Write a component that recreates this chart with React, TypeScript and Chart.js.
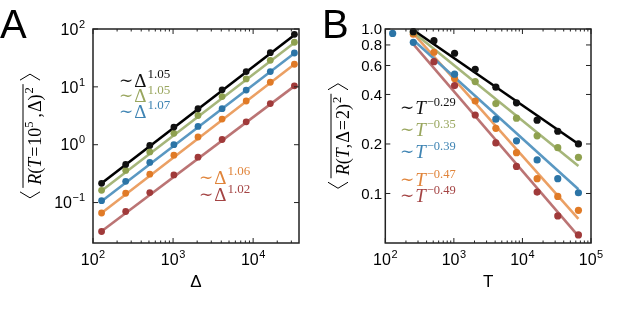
import React, { useEffect, useRef } from "react";
import { Chart, registerables } from "chart.js";
Chart.register(...registerables);

// ---------- Panel A data ----------
const deltaA = [128, 256, 512, 1024, 2048, 4096, 8192, 16384, 32768];
const aBlack = [0.215, 0.457, 0.97, 2.02, 4.18, 8.9, 18.4, 39, 81];
const aGreen = [0.163, 0.36, 0.75, 1.57, 3.2, 6.8, 13.7, 28.8, 59];
const aBlue = [0.108, 0.233, 0.495, 1.0, 2.07, 4.2, 8.8, 18.4, 38.5];
const aOrange = [0.066, 0.145, 0.31, 0.66, 1.36, 2.77, 5.7, 12, 24.6];
const aRed = [0.0316, 0.07, 0.149, 0.3, 0.61, 1.23, 2.49, 5.15, 10.4];
const aFitStart = [0.215, 0.16, 0.105, 0.066, 0.032];
const aFitEnd = [79, 58, 38, 24.5, 10.3];
const aExponents = ["1.05", "1.05", "1.07", "1.06", "1.02"];
const aXTicks = [100, 1000, 10000];
const aXTickExp = ["2", "3", "4"];
const aYTicks = [0.1, 1, 10, 100];
const aYTickExp = ["\u22121", "0", "1", "2"];

// ---------- Panel B data ----------
const timeB = [128, 256, 512, 1024, 2048, 4096, 8192, 16384, 32768, 65536];
const bBlack = [null, 0.963, 0.849, 0.712, 0.569, 0.443, 0.356, 0.279, 0.239, 0.2];
const bGreen = [null, 0.96, null, null, 0.479, 0.352, 0.287, 0.224, 0.19, 0.166];
const bBlue = [0.94, 0.83, null, 0.531, null, 0.283, 0.209, 0.16, 0.123, 0.101];
const bOrange = [null, 0.93, 0.722, 0.5, 0.365, 0.249, 0.177, 0.123, 0.096, 0.079];
const bRed = [null, null, 0.633, 0.453, 0.3, 0.203, 0.146, 0.102, 0.073, 0.056];
const bFitStart = [0.986, 0.955, 0.857, 0.94, 0.81];
const bFitEnd = [0.2, 0.147, 0.106, 0.07, 0.055];
const bExponents = ["\u22120.29", "\u22120.35", "\u22120.39", "\u22120.47", "\u22120.49"];
const bXTicks = [100, 1000, 10000, 100000];
const bXTickExp = ["2", "3", "4", "5"];
const bYTicks = [0.1, 0.2, 0.4, 0.6, 0.8, 1.0];
const bYTickLabels = ["0.1", "0.2", "0.4", "0.6", "0.8", "1.0"];

// ---------- styles ----------
const POINT_COLORS = ["#111111", "#8fa14f", "#2b74a6", "#e07a26", "#a03a3a"];
const LINE_COLORS = ["#000000", "#a6b67a", "#5a98c2", "#eba064", "#bb7474"];
const TEXT_COLORS = ["#111111", "#99a65e", "#3f84b3", "#e0843a", "#a44444"];
const SANS = '"Liberation Sans", Arial, sans-serif';
const SERIF = '"Liberation Serif", "Times New Roman", serif';
const TILDE_FONT = '17px "DejaVu Serif", serif';

type Seg = { t: string; f: string; dy?: number; dx?: number };

function segWidth(ctx: CanvasRenderingContext2D, segs: Seg[]) {
  let w = 0;
  for (const s of segs) {
    ctx.font = s.f;
    w += (s.dx || 0) + ctx.measureText(s.t).width;
  }
  return w;
}

function drawSegs(
  ctx: CanvasRenderingContext2D,
  segs: Seg[],
  x: number,
  y: number,
  align: "left" | "center" | "right",
  color: string
) {
  const w = segWidth(ctx, segs);
  let cx = align === "left" ? x : align === "right" ? x - w : x - w / 2;
  ctx.fillStyle = color;
  ctx.textAlign = "left";
  ctx.textBaseline = "alphabetic";
  for (const s of segs) {
    ctx.font = s.f;
    cx += s.dx || 0;
    ctx.fillText(s.t, cx, y + (s.dy || 0));
    cx += ctx.measureText(s.t).width;
  }
  return w;
}

function sci(exp: string): Seg[] {
  return [
    { t: "10", f: `16px ${SANS}` },
    { t: exp, f: `11px ${SANS}`, dy: -7, dx: 0.5 },
  ];
}

function minorTicks(min: number, max: number) {
  const out: number[] = [];
  for (let d = Math.floor(Math.log10(min)); d <= Math.ceil(Math.log10(max)); d++) {
    for (let k = 2; k <= 9; k++) {
      const v = k * Math.pow(10, d);
      if (v > min && v < max) out.push(v);
    }
  }
  return out;
}

type PanelOpts = {
  xMajors: number[];
  xLabels: Seg[][];
  yMajors: number[];
  yLabels: Seg[][];
  yLabelRight: number;
  yLabelFontPx: number;
  xTitle: string;
  letter: string;
  letterX: number;
  ylabel: Seg[];
  ylabelX: number;
  annotations: { x: number; y: number; segs: Seg[]; color: string }[];
};

function makePlugin(o: PanelOpts) {
  return {
    id: "panelDecor",
    afterDraw(chart: any) {
      const ctx: CanvasRenderingContext2D = chart.ctx;
      const ca = chart.chartArea;
      const xs = chart.scales.x;
      const ys = chart.scales.y;
      ctx.save();
      // frame
      ctx.strokeStyle = "#222";
      ctx.lineWidth = 1.5;
      ctx.strokeRect(ca.left, ca.top, ca.right - ca.left, ca.bottom - ca.top);
      // ticks
      ctx.lineWidth = 1;
      ctx.beginPath();
      const xmin = xs.min, xmax = xs.max;
      for (const v of o.xMajors) {
        const px = xs.getPixelForValue(v);
        ctx.moveTo(px, ca.bottom); ctx.lineTo(px, ca.bottom - 5);
        ctx.moveTo(px, ca.top); ctx.lineTo(px, ca.top + 5);
      }
      for (const v of minorTicks(xmin, xmax)) {
        const px = xs.getPixelForValue(v);
        ctx.moveTo(px, ca.bottom); ctx.lineTo(px, ca.bottom - 2.5);
        ctx.moveTo(px, ca.top); ctx.lineTo(px, ca.top + 2.5);
      }
      for (const v of o.yMajors) {
        const py = ys.getPixelForValue(v);
        ctx.moveTo(ca.left, py); ctx.lineTo(ca.left + 5, py);
        ctx.moveTo(ca.right, py); ctx.lineTo(ca.right - 5, py);
      }
      ctx.stroke();
      // tick labels
      o.xMajors.forEach((v, i) => {
        const px = xs.getPixelForValue(v);
        drawSegs(ctx, o.xLabels[i], px, 264.5, "center", "#000");
      });
      o.yMajors.forEach((v, i) => {
        const py = ys.getPixelForValue(v);
        drawSegs(ctx, o.yLabels[i], o.yLabelRight, py + o.yLabelFontPx * 0.36, "right", "#000");
      });
      // x title
      drawSegs(ctx, [{ t: o.xTitle, f: `17px ${SANS}` }], (ca.left + ca.right) / 2, 286.5, "center", "#000");
      // panel letter
      drawSegs(ctx, [{ t: o.letter, f: `40px ${SANS}` }], o.letterX, 37.5, "left", "#000");
      // y label (rotated)
      ctx.save();
      ctx.translate(o.ylabelX, 136);
      ctx.rotate(-Math.PI / 2);
      const w = drawSegs(ctx, o.ylabel, 0, 0, "center", "#000");
      ctx.strokeStyle = "#000";
      ctx.lineWidth = 1;
      ctx.beginPath();
      ctx.moveTo(-w / 2 - 3, -18); ctx.lineTo(w / 2 + 3, -18);
      // angle brackets
      const l0 = -w / 2 - 7, l1 = -w / 2 - 13;
      ctx.moveTo(l0, -21); ctx.lineTo(l1, -11); ctx.lineTo(l0, -1);
      const r0 = w / 2 + 7, r1 = w / 2 + 13;
      ctx.moveTo(r0, -21); ctx.lineTo(r1, -11); ctx.lineTo(r0, -1);
      ctx.stroke();
      ctx.restore();
      // annotations
      for (const a of o.annotations) drawSegs(ctx, a.segs, a.x, a.y, "left", a.color);
      ctx.restore();
    },
  };
}

function buildDatasets(xs: number[], series: (number | null)[][], fitStart: number[], fitEnd: number[], fitX: [number, number], radius: number) {
  const ds: any[] = [];
  series.forEach((vals, i) => {
    ds.push({
      type: "line",
      data: [{ x: fitX[0], y: fitStart[i] }, { x: fitX[1], y: fitEnd[i] }],
      borderColor: LINE_COLORS[i],
      borderWidth: 2.6,
      pointRadius: 0,
      showLine: true,
      fill: false,
      clip: false,
      order: 20 + i,
    });
  });
  const pointOrder = [0, 2, 1, 3, 4];
  series.forEach((vals, i) => {
    ds.push({
      type: "scatter",
      data: xs.map((x, j) => ({ x, y: vals[j] })).filter((p) => p.y !== null),
      backgroundColor: POINT_COLORS[i],
      borderWidth: 0,
      pointRadius: radius,
      showLine: false,
      clip: false,
      order: pointOrder[i],
    });
  });
  return ds;
}

function baseOptions(xmin: number, xmax: number, ymin: number, ymax: number, padding: any) {
  return {
    responsive: false,
    animation: false as const,
    devicePixelRatio: 1,
    layout: { padding },
    plugins: { legend: { display: false }, tooltip: { enabled: false } },
    scales: {
      x: { type: "logarithmic", min: xmin, max: xmax, display: false },
      y: { type: "logarithmic", min: ymin, max: ymax, display: false },
    },
  };
}

const serif = (px: number, italic = false) => `${italic ? "italic " : ""}${px}px ${SERIF}`;

export default function App() {
  const refA = useRef<HTMLCanvasElement>(null);
  const refB = useRef<HTMLCanvasElement>(null);

  useEffect(() => {
    // ---- Panel A ----
    const annA = [0, 1, 2, 3, 4].map((i) => {
      const pos = [
        [119, 86.5],
        [119, 102],
        [119, 117.5],
        [199, 183.5],
        [199, 201],
      ][i];
      return {
        x: pos[0],
        y: pos[1],
        color: TEXT_COLORS[i],
        segs: [
          { t: "\u223C", f: TILDE_FONT, dy: -1 },
          { t: "\u0394", f: serif(19), dx: 1 },
          { t: aExponents[i], f: serif(13), dy: -8.5, dx: 1 },
        ] as Seg[],
      };
    });
    const pluginA = makePlugin({
      xMajors: aXTicks,
      xLabels: aXTickExp.map(sci),
      yMajors: aYTicks,
      yLabels: aYTickExp.map(sci),
      yLabelRight: 85,
      yLabelFontPx: 16,
      xTitle: "\u0394",
      letter: "A",
      letterX: 0,
      ylabelX: 41,
      ylabel: [
        { t: "R", f: serif(18, true) },
        { t: "(", f: serif(18) },
        { t: "T", f: serif(18, true) },
        { t: "=", f: serif(18), dx: 1 },
        { t: "10", f: serif(18), dx: 1 },
        { t: "5", f: serif(12.5), dy: -8 },
        { t: ",", f: serif(18), dx: 4 },
        { t: "\u0394", f: serif(18), dx: 1 },
        { t: ")", f: serif(18) },
        { t: "2", f: serif(12.5), dy: -8, dx: 1 },
      ],
      annotations: annA,
    });
    const chartA = new Chart(refA.current!, {
      type: "scatter",
      data: {
        datasets: buildDatasets(deltaA, [aBlack, aGreen, aBlue, aOrange, aRed], aFitStart, aFitEnd, [deltaA[0], deltaA[deltaA.length - 1]], 3.4),
      },
      options: baseOptions(100, 37400, 0.02, 100, { left: 93, right: 11, top: 29, bottom: 69 }) as any,
      plugins: [pluginA],
    });

    // ---- Panel B ---- (canvas starts at page x = 310)
    const annB = [0, 1, 2, 3, 4].map((i) => {
      const yy = [114, 136, 158, 186, 202][i];
      return {
        x: 90,
        y: yy,
        color: TEXT_COLORS[i],
        segs: [
          { t: "\u223C", f: TILDE_FONT, dy: -1 },
          { t: "T", f: serif(19, true), dx: 1 },
          { t: bExponents[i], f: serif(12.5), dy: -8.5, dx: 1 },
        ] as Seg[],
      };
    });
    const pluginB = makePlugin({
      xMajors: bXTicks,
      xLabels: bXTickExp.map(sci),
      yMajors: bYTicks,
      yLabels: bYTickLabels.map((t) => [{ t, f: `15px ${SANS}` }]),
      yLabelRight: 72,
      yLabelFontPx: 15,
      xTitle: "T",
      letter: "B",
      letterX: 12,
      ylabelX: 39,
      ylabel: [
        { t: "R", f: serif(18, true) },
        { t: "(", f: serif(18) },
        { t: "T", f: serif(18, true) },
        { t: ",", f: serif(18) },
        { t: "\u0394", f: serif(18), dx: 1 },
        { t: "=", f: serif(18), dx: 1 },
        { t: "2", f: serif(18), dx: 1 },
        { t: ")", f: serif(18) },
        { t: "2", f: serif(12.5), dy: -8, dx: 1 },
      ],
      annotations: annB,
    });
    const chartB = new Chart(refB.current!, {
      type: "scatter",
      data: {
        datasets: buildDatasets(timeB, [bBlack, bGreen, bBlue, bOrange, bRed], bFitStart, bFitEnd, [timeB[1], timeB[timeB.length - 1]], 3.6),
      },
      options: baseOptions(100, 100000, 0.05, 1.0, { left: 75.3, right: 32, top: 29, bottom: 69 }) as any,
      plugins: [pluginB],
    });

    return () => {
      chartA.destroy();
      chartB.destroy();
    };
  }, []);

  return (
    <div style={{ position: "fixed", left: 0, top: 0, width: 623, height: 312, background: "#fff" }}>
      <canvas ref={refA} width={310} height={312} style={{ position: "absolute", left: 0, top: 0, width: 310, height: 312 }} />
      <canvas ref={refB} width={313} height={312} style={{ position: "absolute", left: 310, top: 0, width: 313, height: 312 }} />
    </div>
  );
}
